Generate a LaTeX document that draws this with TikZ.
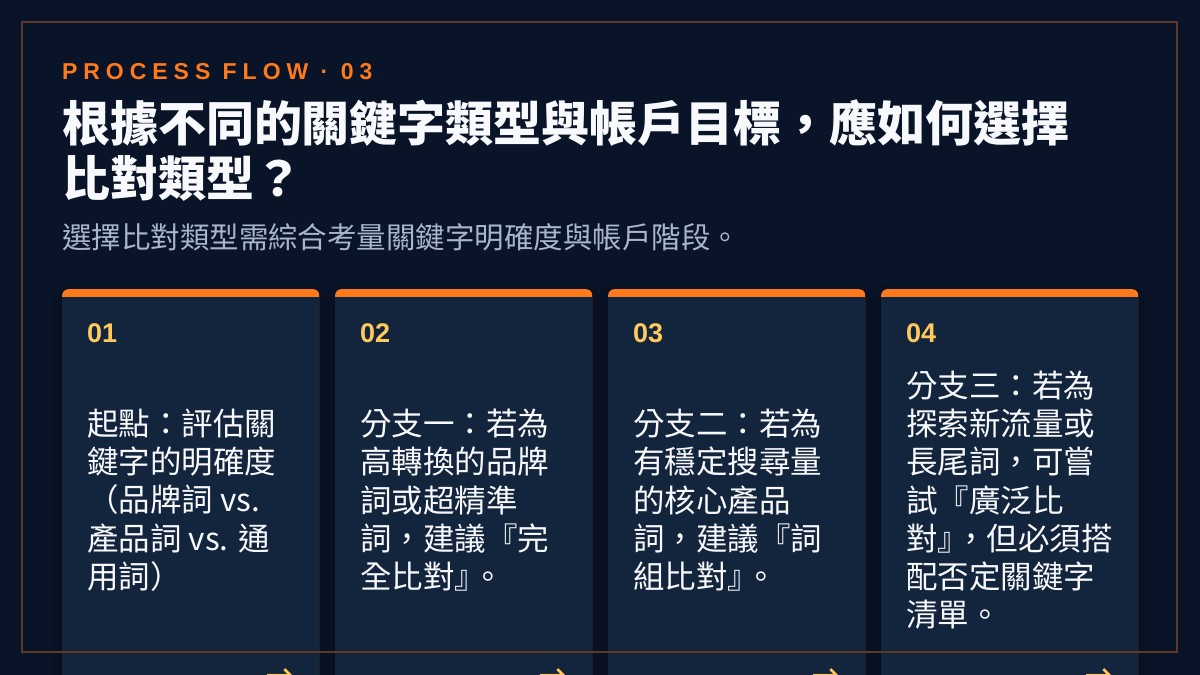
\documentclass[tikz,border=0pt]{standalone}
\usepackage{fontspec}
\setmainfont{Liberation Sans}
\newfontfamily\cjk{Noto Sans CJK TC}
\newfontfamily\espace{Liberation Sans}[LetterSpace=26]
\newfontfamily\symb{DejaVu Sans}
\usetikzlibrary{positioning,shadows.blur}
\definecolor{couleurfond}{HTML}{0A1428}
\definecolor{couleurcart}{HTML}{13243D}
\definecolor{couleurorng}{HTML}{FF7A1A}
\definecolor{couleurjaun}{HTML}{FFC95C}
\definecolor{couleurbord}{HTML}{5C3A26}
\definecolor{couleurstit}{HTML}{A8B6C9}
\definecolor{couleurtext}{HTML}{F7F9FC}
\newcommand{\textecarte}[2]{\node[corps, right=25pt of #1.west] (text#1) {#2};}
\newcommand{\crochet}{』\kern-.45em}
\tikzset{
		basic/.style={inner sep=0pt, outer sep=0pt},
		carte/.style={basic, fill=couleurorng, rounded corners=6pt, minimum width=257pt, minimum height=422pt, blur shadow={shadow xshift=0pt, shadow yshift=-4pt, shadow blur radius=10pt, shadow opacity=45}},
		numero/.style={basic, font=\fontsize{27}{30}\selectfont\bfseries, text=couleurjaun},
		corps/.style={basic, font=\cjk\fontsize{31.5}{38.3}\selectfont, text=couleurtext, align=left},
		fleche/.style={basic, font=\symb\fontsize{34}{36}\selectfont, text=couleurjaun},
		etiquette/.style={basic, font=\espace\bfseries\fontsize{23}{26}\selectfont, text=couleurorng},
		titre/.style={basic, font=\cjk\bfseries\fontsize{48}{55}\selectfont, text=couleurtext, align=left},
		soustitre/.style={basic, font=\cjk\fontsize{29.5}{34}\selectfont, text=couleurstit},
		cadre/.style={draw=couleurbord, line width=2pt, minimum width=1155pt, minimum height=630pt}
	}
\begin{document}
\begin{tikzpicture}[x=1pt, y=-1pt]
		% fond
		\useasboundingbox (0,0) rectangle (1200,675);
		\clip (0,0) rectangle (1200,675);
		\fill[couleurfond] (0,0) rectangle (1200,675);
		
		% en-tete
		\node[etiquette, anchor=west] (etiqproc) at (62,72) {PROCESS FLOW · 03};
		\node[titre, anchor=west] (titrprin) at (62,151) {根據不同的關鍵字類型與帳戶目標，應如何選擇\\比對類型？};
		\node[soustitre, anchor=west] (soustitr) at (62,237) {選擇比對類型需綜合考量關鍵字明確度與帳戶階段。};
		
		% cartes
		\matrix[anchor=north west, column sep=16pt, inner sep=0pt] (cartes) at (62,289) {
			\node[carte](carteun){}; & \node[carte](cartedeu){}; & \node[carte](cartetro){}; & \node[carte](cartequa){}; \\
		};
		\foreach \carte/\num in {carteun/01, cartedeu/02, cartetro/03, cartequa/04} {
			\fill[couleurcart] ([yshift=-8pt]\carte.north west) rectangle (\carte.south east);
			\node[numero, below right=34pt and 25pt of \carte.north west] (num\carte) {\num};
			\node[fleche, above left=25pt and 25pt of \carte.south east, anchor=base east] (fle\carte) {→};
		}
		
		% textes
		\textecarte{carteun}{起點：評估關\\鍵字的明確度\\（品牌詞 vs.\\產品詞 vs. 通\\用詞）}
		\textecarte{cartedeu}{分支一：若為\\高轉換的品牌\\詞或超精準\\詞，建議『完\\全比對\crochet。}
		\textecarte{cartetro}{分支二：若為\\有穩定搜尋量\\的核心產品\\詞，建議『詞\\組比對\crochet。}
		\textecarte{cartequa}{分支三：若為\\探索新流量或\\長尾詞，可嘗\\試『廣泛比\\對\crochet，但必須搭\\配否定關鍵字\\清單。}
		
		% cadre
		\node[cadre] (cadre) at (599.5,337) {};
	\end{tikzpicture}
\end{document}
